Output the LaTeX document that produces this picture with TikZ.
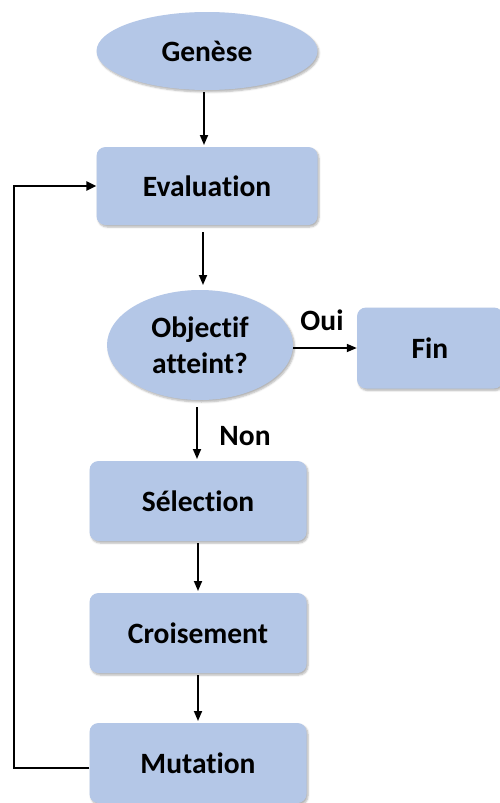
\documentclass[tikz,border=0pt]{standalone}
\usepackage{fontspec}
\setmainfont[Ligatures=NoCommon]{Carlito}
\usetikzlibrary{shapes.geometric,arrows.meta,shadows.blur}
\definecolor{boxblue}{HTML}{B4C7E7}
\begin{document}
\begin{tikzpicture}[x=1pt,y=-1pt,
  base/.style={fill=boxblue,font=\fontsize{29.5}{36}\selectfont\bfseries,align=center,inner sep=0pt,
    blur shadow={shadow xshift=1.5pt,shadow yshift=-2pt,shadow blur steps=5,shadow opacity=30}},
  rbox/.style={base,rectangle,rounded corners=9pt,minimum width=221pt,minimum height=78pt},
  rbox2/.style={base,rectangle,rounded corners=9pt,minimum width=217pt,minimum height=80pt},
  oval/.style={base,ellipse},
  arr/.style={-{Triangle[length=10pt,width=8pt]},line width=1.7pt},
  lbl/.style={font=\fontsize{29.5}{34}\selectfont\bfseries}
]
\useasboundingbox (0,0) rectangle (500,803);
\node[oval,minimum width=221pt,minimum height=78pt] (genese) at (207,51) {Genèse};
\node[rbox] (eval) at (207,186) {Evaluation};
\node[oval,minimum width=186pt,minimum height=110pt] (obj) at (200,345) {Objectif\\atteint?};
\node[rbox,minimum width=146pt,minimum height=81pt] (fin) at (430,348) {Fin};
\node[rbox2] (sel) at (198,501) {Sélection};
\node[rbox2] (crois) at (198,633) {Croisement};
\node[rbox2] (mut) at (198,763) {Mutation};

\draw[arr] (204,92) -- (204,145);
\draw[arr] (203,232) -- (203,285);
\draw[arr] (obj.east |- 0,348) -- (fin.west |- 0,348);
\draw[arr] (197,407) -- (197,459);
\draw[arr] (198,543) -- (198,591);
\draw[arr] (198,675) -- (198,721);
\node[lbl] (oui) at (322,320) {Oui};
\node[lbl] (non) at (245,436) {Non};
\coordinate (c1) at (14,768);
\coordinate (c2) at (14,186);
\draw[line width=2.8pt,-{Triangle[length=10pt,width=9pt]}] (mut.west |- 0,768) -- (c1) -- (c2) -- (eval.west);
\end{tikzpicture}
\end{document}
